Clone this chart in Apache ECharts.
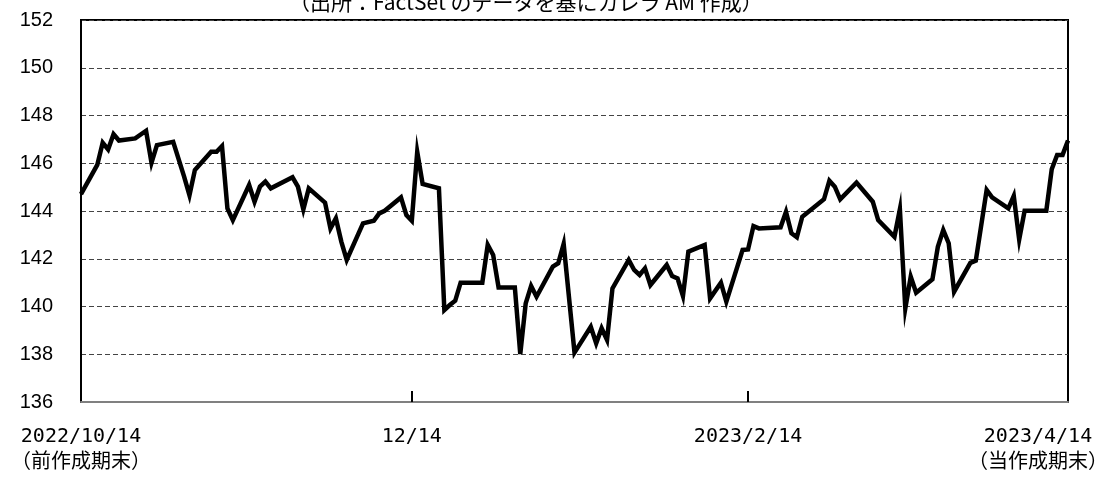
<!DOCTYPE html>
<html>
<head>
<meta charset="utf-8">
<script src="https://cdn.jsdelivr.net/npm/echarts@6/dist/echarts.min.js"></script>
<style>
html,body{margin:0;padding:0;background:#fff}
#chart{width:1111px;height:477px}
</style>
</head>
<body>
<div id="chart"></div>
<script>
//数据：距2022/10/14的天数
const dayOffsets = [0, 3, 4, 5, 6, 7, 10, 12, 13, 14, 17, 19, 20, 21, 24, 25, 26, 27, 28, 31, 32, 33, 34, 35,
  39, 40, 41, 42, 45, 46, 47, 48, 49, 52, 54, 55, 56, 59, 60, 61, 62, 63, 66, 67, 68, 69, 70, 74,
  75, 76, 77, 80, 81, 82, 83, 84, 87, 88, 89, 91, 94, 95, 96, 97, 98, 101, 102, 103, 104, 105,
  108, 109, 110, 111, 112, 115, 116, 118, 119, 122, 123, 124, 125, 129, 130, 131, 132, 133, 137,
  138, 139, 140, 143, 146, 147, 150, 151, 152, 153, 154, 157, 158, 159, 160, 161, 164, 165, 167,
  168, 171, 172, 173, 174, 178, 179, 180, 181, 182]
//数据：价格
const prices = [144.71, 145.93, 146.86, 146.58, 147.22, 146.95, 147.04, 147.36, 146.02, 146.76, 146.90, 145.45, 144.66, 145.72, 146.48, 146.48, 146.72, 144.11, 143.62, 145.09, 144.39, 145.02, 145.23, 144.95,
  145.41, 145.02, 144.07, 144.95, 144.35, 143.27, 143.69, 142.72, 141.95, 143.48, 143.59, 143.90, 144.01, 144.57, 143.83, 143.59, 146.48, 145.13, 144.95, 139.85, 140.06, 140.24, 141.00, 141.00,
  142.58, 142.16, 140.80, 140.80, 138.01, 140.13, 140.86, 140.41, 141.67, 141.81, 142.62, 138.07, 139.15, 138.46, 139.09, 138.60, 140.76, 141.95, 141.53, 141.32, 141.60, 140.90,
  141.74, 141.28, 141.18, 140.44, 142.30, 142.58, 140.34, 141.00, 140.20, 142.37, 142.39, 143.37, 143.27, 143.32, 143.97, 143.07, 142.90, 143.76, 144.49,
  145.27, 145.02, 144.49, 145.19, 144.39, 143.62, 142.92, 144.07, 139.92, 141.25, 140.58, 141.14, 142.50, 143.20, 142.65, 140.62, 141.83, 141.92, 144.88,
  144.57, 144.11, 144.63, 142.81, 144.01, 144.01, 145.75, 146.35, 146.35, 146.95]
//x轴标签位置与文字
const tickDays = [0, 61, 123, 182]
const tickLabels = ['2022/10/14\n（前作成期末）', '12/14', '2023/2/14', '2023/4/14\n（当作成期末）']
const innerTickDays = [61, 123]
//y轴范围
const yMin = 136
const yMax = 152
const yStep = 2
//标题
const sourceText = '（出所：FactSet のデータを基にカレラ AM 作成）'

const labelFont = '"DejaVu Sans Mono", "Noto Sans CJK JP", monospace'

//初始化图表
const initChart = () => {
  const chart = echarts.init(document.getElementById('chart'), null, {renderer: 'canvas'})
  const seriesData = dayOffsets.map((d, i) => [d, prices[i]])
  const option = {
    animation: false,
    backgroundColor: '#fff',
    title: {
      text: sourceText,
      left: 284,
      top: -13,
      textStyle: {
        fontFamily: '"Noto Sans CJK JP", sans-serif',
        fontSize: 21,
        fontWeight: 'normal',
        color: '#000'
      }
    },
    grid: {
      left: 81,
      top: 20,
      width: 987,
      height: 382,
      outerBoundsMode: 'none',
      containLabel: false,
      show: true,
      borderColor: '#000',
      borderWidth: 2,
      backgroundColor: 'transparent'
    },
    xAxis: {
      type: 'value',
      min: 0,
      max: 182,
      axisLine: {
        show: true,
        lineStyle: {color: '#808080', width: 2}
      },
      axisTick: {
        show: true,
        inside: true,
        length: 11,
        customValues: innerTickDays,
        lineStyle: {color: '#000', width: 2}
      },
      axisLabel: {
        customValues: tickDays,
        margin: 22,
        color: '#000',
        fontFamily: labelFont,
        fontSize: 20,
        lineHeight: 26,
        formatter: (value) => {
          const i = tickDays.indexOf(value)
          if (i < 0) return ''
          //最后一个标签向左偏移
          if (i === tickDays.length - 1) {
            return tickLabels[i].split('\n').map(s => '{e|' + s + '}').join('\n')
          }
          return tickLabels[i]
        },
        rich: {
          e: {
            fontFamily: labelFont,
            fontSize: 20,
            lineHeight: 26,
            color: '#000',
            padding: [0, 60, 0, 0]
          }
        }
      },
      splitLine: {show: false}
    },
    yAxis: {
      type: 'value',
      min: yMin,
      max: yMax,
      interval: yStep,
      axisLine: {
        show: true,
        lineStyle: {color: '#000', width: 2}
      },
      axisTick: {show: false},
      axisLabel: {
        margin: 28,
        color: '#000',
        fontFamily: '"Liberation Sans", Arial, sans-serif',
        fontSize: 20
      },
      splitLine: {
        show: true,
        lineStyle: {color: '#444', width: 1, type: [5, 3]}
      }
    },
    series: [{
      type: 'line',
      data: seriesData,
      showSymbol: false,
      symbol: 'none',
      lineStyle: {color: '#000', width: 4.5, join: 'miter'},
      z: 5
    }]
  }
  chart.setOption(option)
}

initChart()
</script>
</body>
</html>
